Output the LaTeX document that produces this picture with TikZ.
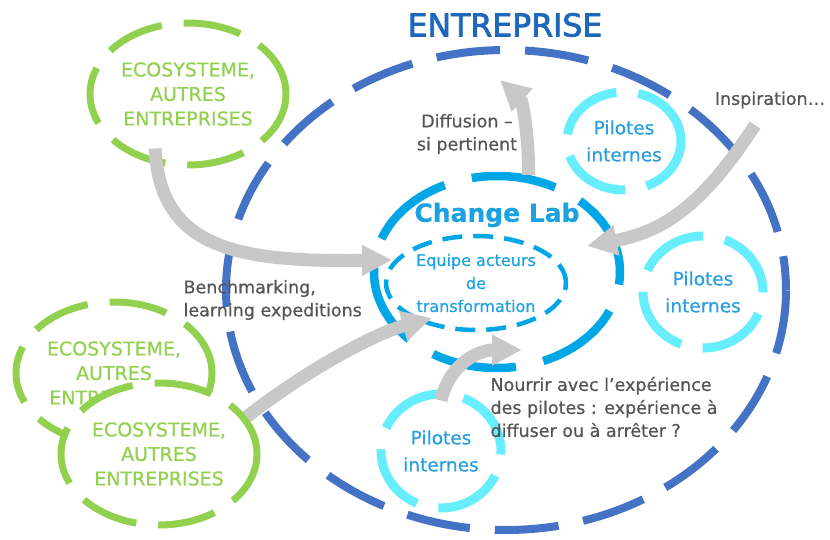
\documentclass[tikz,border=0pt]{standalone}
\usepackage{fontspec}
\setmainfont{DejaVu Sans}[FakeBold=0.6]
\newfontfamily\headfont{DejaVu Sans}[FakeBold=2.4]
\usetikzlibrary{shapes.geometric,arrows.meta}
\definecolor{entblue}{RGB}{68,114,196}
\definecolor{titleblue}{RGB}{30,104,188}
\definecolor{labblue}{RGB}{0,166,230}
\definecolor{labtext}{RGB}{28,162,226}
\definecolor{pilcyan}{RGB}{102,238,255}
\definecolor{piltext}{RGB}{40,158,224}
\definecolor{ecogreen}{RGB}{146,208,80}
\definecolor{flowgrey}{RGB}{200,200,200}
\definecolor{saygrey}{RGB}{85,85,85}
\begin{document}
\begin{tikzpicture}[x=1pt,y=-1pt,
    ring/.style={ellipse, draw, inner sep=0pt},
    eco/.style={ring, draw=ecogreen, line width=7pt, dash pattern=on 58pt off 22pt,
      minimum width=196pt, minimum height=142pt, text=ecogreen, align=center,
      font=\fontsize{19}{24.5}\selectfont},
    pilote/.style={ring, draw=pilcyan, line width=9pt, dash pattern=on 69pt off 22pt,
      text=piltext, align=center, font=\fontsize{18.5}{27}\selectfont},
    flow/.style={draw=flowgrey, line width=13pt, -{Triangle[length=30pt,width=29pt]}},
    say/.style={text=saygrey, align=left, font=\fontsize{17.5}{23}\selectfont}]
  \useasboundingbox (0,0) rectangle (830,540);
  \node[ring, draw=entblue, line width=8pt, dash pattern=on 64pt off 25pt, dash phase=30pt,
    minimum width=560pt, minimum height=480pt] (entreprise) at (506,290) {};
  \node[text=titleblue, font=\headfont\fontsize{31.5}{36}\selectfont] (enttitle) at (505,25) {ENTREPRISE};
  \node[ring, draw=labblue, line width=8.5pt, dash pattern=on 85pt off 28pt,
    minimum width=246pt, minimum height=192pt] (changelab) at (497,272) {};
  \node[text=labtext, font=\fontsize{25}{30}\selectfont\bfseries] (labtitle) at (497,215) {Change Lab};
  \node[ring, draw=labblue, line width=4.5pt, dash pattern=on 20pt off 11pt,
    minimum width=180pt, minimum height=94pt, text=labtext, align=center,
    font=\fontsize{16}{23}\selectfont] (equipe) at (476,283) {Equipe acteurs\\de\\transformation};
  \node[pilote, minimum width=114pt, minimum height=98pt] (pil1) at (624,141) {Pilotes\\internes};
  \node[pilote, minimum width=120pt, minimum height=112pt] (pil2) at (703,292) {Pilotes\\internes};
  \node[pilote, minimum width=120pt, minimum height=114pt] (pil3) at (441,451) {Pilotes\\internes};
  \node[eco] (eco1) at (188,94) {ECOSYSTEME,\\AUTRES\\ENTREPRISES};
  \node[eco] (eco2) at (114,373) {ECOSYSTEME,\\AUTRES\\ENTREPRISES};
  \node[eco, fill=white] (eco3) at (159,454) {ECOSYSTEME,\\AUTRES\\ENTREPRISES};
  \node[say, align=center] (diff) at (467,134) {Diffusion –\\si pertinent};
  \node[say] (insp) at (770,100) {Inspiration…};
  \node[say, anchor=west] (bench) at (180,300) {Benchmarking,\\learning expeditions};
  \node[say, anchor=west] (nourrir) at (487,407) {Nourrir avec l’expérience\\des pilotes : expérience à\\diffuser ou à arrêter ?};
  \coordinate (benchend) at (392,260);
  \coordinate (learnend) at (432,318);
  \coordinate (diffend) at (500,80);
  \coordinate (inspstart) at (755,125);
  \coordinate (inspend) at (587,246);
  \coordinate (nourrend) at (522,350);
  \draw[flow] ([yshift=16pt]eco1.-115) .. controls (160,250) and (240,262) .. (benchend);
  \draw[flow] (eco3.23) .. controls (300,375) and (370,335) .. (learnend);
  \draw[flow] (changelab.72) .. controls (529,135) and (522,100) .. (diffend);
  \draw[flow] (inspstart) .. controls (700,210) and (660,232) .. (inspend);
  \draw[flow] ([yshift=-11pt]pil3.north) .. controls (450,362) and (480,350) .. (nourrend);
\end{tikzpicture}
\end{document}
